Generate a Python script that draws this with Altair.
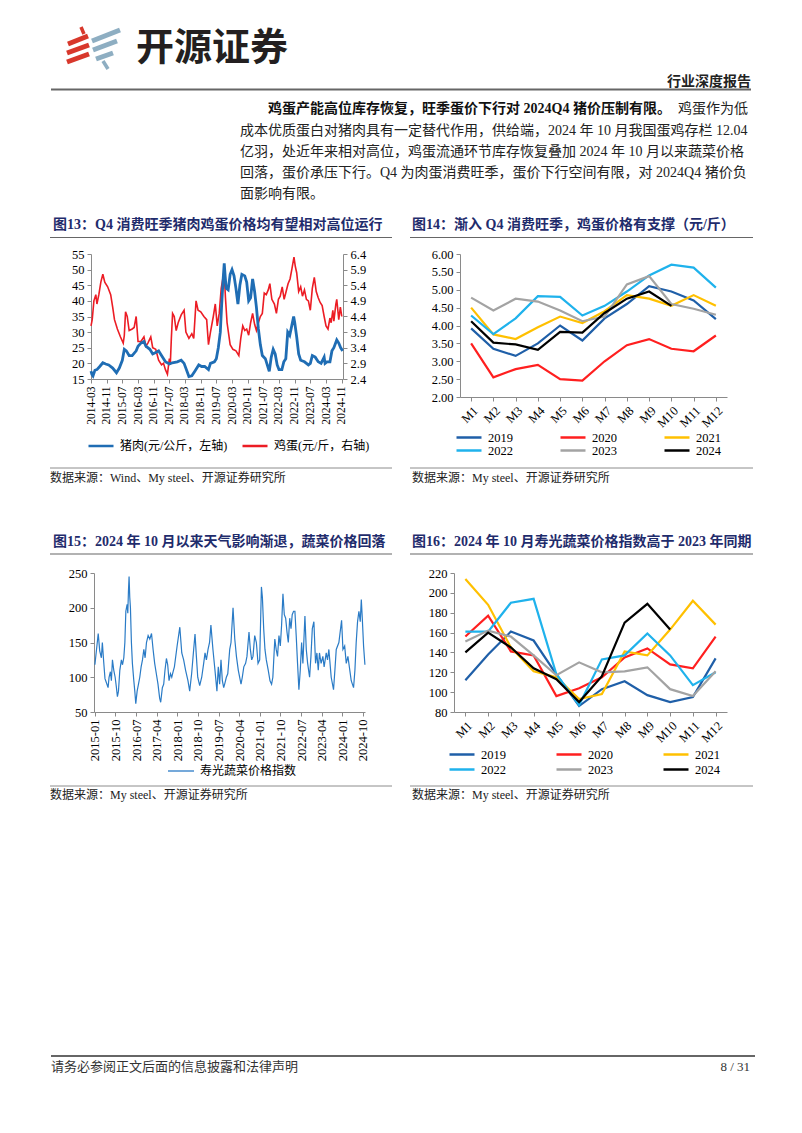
import altair as alt
import pandas as pd

# ---------------- data ----------------
pork_dates = ["2014-03-01","2014-03-15","2014-04-01","2014-05-01","2014-06-01","2014-07-15","2014-09-01","2014-10-15","2014-12-01","2015-02-01",
 "2015-04-01","2015-05-15","2015-07-01","2015-08-01","2015-09-01","2015-10-15","2015-12-01","2016-02-01","2016-03-01","2016-04-15",
 "2016-06-01","2016-07-01","2016-09-01","2016-10-15","2016-12-01","2017-01-15","2017-03-01","2017-05-01","2017-07-01","2017-08-15",
 "2017-11-01","2018-01-01","2018-02-15","2018-04-01","2018-05-01","2018-06-15","2018-08-01","2018-10-01","2018-11-15","2019-01-01",
 "2019-03-01","2019-04-01","2019-06-01","2019-07-01","2019-08-01","2019-09-01","2019-09-20","2019-10-15","2019-11-01","2019-11-15",
 "2019-12-01","2020-01-01","2020-02-01","2020-03-01","2020-04-01","2020-05-01","2020-06-01","2020-07-01","2020-08-01","2020-09-15",
 "2020-10-15","2020-11-15","2020-12-15","2021-01-15","2021-02-15","2021-03-15","2021-04-15","2021-05-15","2021-06-15","2021-08-01",
 "2021-09-15","2021-10-01","2021-11-01","2021-12-01","2022-01-01","2022-02-01","2022-03-01","2022-04-15","2022-05-15","2022-06-15",
 "2022-07-15","2022-08-15","2022-09-15","2022-10-15","2022-11-01","2022-12-01","2023-01-01","2023-02-01","2023-04-01","2023-06-01",
 "2023-07-01","2023-08-01","2023-09-15","2023-11-01","2023-12-15","2024-02-01","2024-02-15","2024-03-15","2024-05-01","2024-06-01",
 "2024-07-01","2024-08-15","2024-09-15","2024-10-15","2024-11-15"]
pork_vals = [17.5,16.5,16.0,17.8,18.0,19.0,20.2,19.8,19.5,18.5,
 17.0,18.5,21.0,24.5,24.0,22.5,22.5,24.0,25.5,26.5,
 27.0,25.5,24.5,23.0,23.5,24.0,22.5,20.5,19.8,20.2,
 20.5,21.0,20.0,17.5,15.8,16.0,17.5,19.5,19.0,19.0,
 18.0,20.0,20.5,21.5,25.0,30.0,38.0,47.0,52.0,48.0,
 44.0,43.5,48.5,50.0,48.0,44.0,39.0,45.0,48.5,48.0,
 46.0,40.0,41.0,47.0,43.0,38.0,31.0,26.0,22.5,21.5,
 18.5,17.5,22.0,24.5,23.0,19.5,18.0,18.0,20.5,21.5,
 30.0,29.0,32.0,35.0,33.0,28.5,23.0,21.0,20.5,19.5,
 20.0,22.5,22.0,20.5,20.0,22.0,20.0,20.5,20.5,24.0,
 25.0,27.5,26.5,25.0,24.0]

egg_dates = ["2014-03-01","2014-03-20","2014-04-15","2014-05-15","2014-06-01","2014-07-01","2014-08-01","2014-09-01","2014-10-01","2014-11-15",
 "2015-01-01","2015-02-01","2015-03-01","2015-04-15","2015-06-01","2015-07-15","2015-08-01","2015-08-20","2015-09-15","2015-10-15",
 "2015-12-01","2016-01-01","2016-02-01","2016-03-01","2016-04-15","2016-06-01","2016-07-01","2016-08-01","2016-09-15","2016-10-15",
 "2016-12-01","2017-01-15","2017-03-01","2017-04-01","2017-05-01","2017-06-01","2017-07-01","2017-07-15","2017-08-01","2017-08-20",
 "2017-09-15","2017-10-15","2017-11-15","2018-01-01","2018-02-15","2018-03-15","2018-05-01","2018-06-15","2018-07-15","2018-08-20",
 "2018-09-20","2018-11-01","2018-12-20","2019-02-01","2019-03-01","2019-04-01","2019-05-15","2019-06-15","2019-07-15","2019-08-15",
 "2019-09-15","2019-10-10","2019-10-30","2019-11-20","2019-12-15","2020-02-01","2020-03-15","2020-05-01","2020-06-15","2020-07-15",
 "2020-08-15","2020-09-15","2020-10-15","2020-11-15","2020-12-15","2021-01-15","2021-02-15","2021-03-15","2021-04-15","2021-05-15",
 "2021-06-15","2021-07-15","2021-08-15","2021-09-15","2021-10-10","2021-11-10","2021-12-20","2022-01-20","2022-02-20","2022-03-20",
 "2022-04-20","2022-05-20","2022-06-20","2022-07-20","2022-08-20","2022-09-20","2022-10-20","2022-11-10","2022-12-01","2023-01-01",
 "2023-02-01","2023-03-01","2023-04-01","2023-05-01","2023-06-01","2023-07-01","2023-08-01","2023-09-01","2023-10-01","2023-11-01",
 "2023-12-01","2024-01-01","2024-02-01","2024-03-01","2024-04-01","2024-05-01","2024-05-20","2024-06-15","2024-07-01","2024-08-01",
 "2024-08-15","2024-09-15","2024-10-10","2024-11-01"]
egg_vals = [4.1,4.3,4.9,5.1,4.8,5.1,5.5,5.75,5.5,5.35,
 5.1,4.7,4.3,4.0,3.75,3.55,3.8,4.55,4.4,3.95,
 4.0,4.05,4.4,3.6,3.6,3.75,3.45,3.55,3.75,3.4,
 3.35,3.0,2.85,2.9,2.7,2.55,3.05,2.85,3.7,4.5,
 4.4,3.95,4.2,4.45,4.6,3.9,3.7,3.85,3.7,4.9,
 4.6,4.55,4.4,4.3,3.5,3.9,4.4,4.8,4.1,4.5,
 5.3,5.6,5.85,5.0,4.2,3.5,3.35,3.3,3.15,3.7,
 4.1,3.95,4.0,3.8,4.2,4.5,4.15,3.95,4.2,4.4,
 4.5,5.15,5.1,5.25,5.45,4.95,4.8,4.5,4.95,5.05,
 5.35,4.95,5.2,5.45,5.6,5.95,6.3,6.0,5.8,5.2,
 5.35,5.05,5.25,4.95,4.9,4.6,5.3,5.65,5.2,5.0,
 4.85,4.75,4.4,4.1,4.0,4.35,4.2,4.6,4.25,4.8,
 4.95,4.3,4.7,4.4]

veg_dates = ["2015-01-01","2015-02-14","2015-03-06","2015-03-28","2015-04-10","2015-04-28","2015-05-15","2015-06-03","2015-06-25","2015-07-08",
 "2015-07-26","2015-08-08","2015-08-22","2015-09-09","2015-09-27","2015-10-14","2015-10-27","2015-11-10","2015-11-28","2015-12-19",
 "2016-01-03","2016-01-20","2016-02-03","2016-02-16","2016-03-04","2016-03-13","2016-03-21","2016-03-30","2016-04-08","2016-04-17",
 "2016-04-30","2016-05-13","2016-06-01","2016-06-14","2016-06-27","2016-07-15","2016-08-02","2016-08-19","2016-09-06","2016-09-24",
 "2016-10-12","2016-10-29","2016-11-16","2016-12-08","2016-12-30","2017-01-22","2017-02-12","2017-03-05","2017-03-27","2017-04-18",
 "2017-05-10","2017-05-24","2017-06-15","2017-07-03","2017-07-20","2017-08-08","2017-08-25","2017-09-12","2017-10-01","2017-10-18",
 "2017-11-05","2017-11-22","2017-12-28","2018-02-02","2018-02-28","2018-03-25","2018-04-20","2018-05-21","2018-06-13","2018-07-09",
 "2018-08-05","2018-08-23","2018-09-10","2018-09-28","2018-10-24","2018-11-20","2018-12-16","2019-01-03","2019-01-21","2019-02-12",
 "2019-03-04","2019-03-22","2019-04-18","2019-05-15","2019-06-10","2019-06-28","2019-07-16","2019-08-03","2019-08-21","2019-09-08",
 "2019-09-25","2019-10-13","2019-11-01","2019-11-27","2019-12-14","2020-01-10","2020-02-02","2020-02-24","2020-03-20","2020-04-25",
 "2020-05-12","2020-06-01","2020-06-25","2020-07-13","2020-08-09","2020-08-27","2020-09-14","2020-10-01","2020-10-24","2020-11-15",
 "2020-12-07","2020-12-29","2021-01-10","2021-01-21","2021-02-03","2021-02-20","2021-03-09","2021-03-27","2021-04-22","2021-05-15",
 "2021-06-05","2021-06-22","2021-07-18","2021-08-05","2021-08-23","2021-09-11","2021-09-29","2021-10-16","2021-11-03","2021-11-21",
 "2021-12-09","2021-12-27","2022-01-13","2022-02-01","2022-02-18","2022-03-06","2022-03-24","2022-04-11","2022-04-28","2022-05-16",
 "2022-06-03","2022-06-21","2022-07-09","2022-07-26","2022-08-22","2022-09-09","2022-09-27","2022-10-23","2022-11-10","2022-11-28",
 "2022-12-19","2023-01-10","2023-01-28","2023-02-15","2023-03-03","2023-03-25","2023-04-17","2023-05-04","2023-06-01","2023-06-18",
 "2023-07-06","2023-08-06","2023-09-06","2023-09-24","2023-10-12","2023-11-16","2023-12-22","2024-01-09","2024-02-01","2024-02-22",
 "2024-03-15","2024-04-28","2024-05-29","2024-06-16","2024-07-03","2024-07-21","2024-08-08","2024-08-26","2024-09-09","2024-09-22",
 "2024-10-09","2024-10-27"]
veg_vals = [118,163,138,128,150,122,98,92,85,100,
 108,95,125,110,100,85,72,80,110,125,
 118,128,150,195,205,192,222,245,215,200,
 150,120,95,80,62,80,90,100,115,125,
 140,128,150,160,155,163,140,120,105,90,
 70,64,85,90,110,127,118,95,105,100,
 108,115,145,172,135,125,110,95,80,105,
 140,162,130,100,88,100,120,135,125,140,
 150,175,140,110,80,115,90,125,95,85,
 92,100,105,140,150,200,155,130,110,90,
 100,115,120,130,165,140,125,130,160,150,
 120,125,180,230,215,170,140,125,110,95,
 90,100,155,140,130,160,145,175,220,190,
 185,165,150,185,170,190,195,195,160,120,
 82,110,150,120,188,140,120,100,130,170,
 180,120,135,110,135,120,130,115,135,125,
 140,100,82,110,140,150,182,140,145,120,
 130,95,85,110,150,180,195,180,212,185,
 145,118]

months = ["M1","M2","M3","M4","M5","M6","M7","M8","M9","M10","M11","M12"]
years = ["2019","2020","2021","2022","2023","2024"]
egg_2019 = [3.92,3.35,3.15,3.50,4.00,3.58,4.20,4.60,5.10,4.95,4.70,4.18]
egg_2020 = [3.50,2.55,2.78,2.90,2.50,2.46,3.00,3.45,3.62,3.35,3.28,3.72]
egg_2021 = [4.50,3.75,3.62,3.95,4.25,4.07,4.40,4.85,4.75,4.55,4.85,4.55]
egg_2022 = [4.28,3.76,4.20,4.82,4.80,4.28,4.55,4.95,5.40,5.70,5.62,5.06]
egg_2023 = [4.78,4.42,4.75,4.67,4.42,4.12,4.25,5.15,5.38,4.60,4.47,4.30]
egg_2024 = [4.12,3.52,3.47,3.32,3.82,3.80,4.35,4.75,4.95,4.55]
veg_2019 = [112,138,161,152,118,86,103,111,97,90,95,134]
veg_2020 = [156,177,141,137,96,104,115,135,144,128,124,156]
veg_2021 = [214,188,145,121,115,93,98,141,137,163,192,168]
veg_2022 = [161,161,190,194,118,87,133,137,159,137,107,120]
veg_2023 = [151,162,156,137,117,130,120,121,125,103,96,121]
veg_2024 = [140,160,145,124,113,90,116,170,189,163]

ticks13 = ["2014-03","2014-11","2015-07","2016-03","2016-11","2017-07","2018-03","2018-11","2019-07",
           "2020-03","2020-11","2021-07","2022-03","2022-11","2023-07","2024-03","2024-11"]
ticks15 = ["2015-01","2015-10","2016-07","2017-04","2018-01","2018-10","2019-07","2020-04","2021-01",
           "2021-10","2022-07","2023-04","2024-01","2024-10"]
yt13_left = [15,20,25,30,35,40,45,50,55]
yt13_right = [2.4,2.9,3.4,3.9,4.4,4.9,5.4,5.9,6.4]
yt14 = [2.0,2.5,3.0,3.5,4.0,4.5,5.0,5.5,6.0]
yt15 = [50,100,150,200,250]
yt16 = [80,100,120,140,160,180,200,220]

PORK = "猪肉(元/公斤，左轴)"
EGG = "鸡蛋(元/斤，右轴)"
VEG = "寿光蔬菜价格指数"
year_colors = ["#1f5fa8", "#ff1f1f", "#ffc000", "#1fb2ec", "#a3a3a3", "#000000"]

# ---------------- styles ----------------
SERIF = "Liberation Serif, Noto Sans CJK SC"
NAVY = "#1f2c6c"
one = pd.DataFrame({"k": [0]})


def dt(s):
    y, m = s.split("-")
    return alt.DateTime(year=int(y), month=int(m), date=1)


def T(s, x, y, size=12, weight="normal", color="#222222", align="left", font=SERIF):
    return alt.Chart(one).mark_text(text=s, align=align, baseline="middle", fontSize=size,
                                    fontWeight=weight, color=color, font=font).encode(
        x=alt.value(x), y=alt.value(y))


def R(x1, x2, y, color="#8c8c8c", w=1.0):
    return alt.Chart(one).mark_rule(color=color, strokeWidth=w).encode(
        x=alt.value(x1), x2=alt.value(x2), y=alt.value(y))


def S(x1, y1, x2, y2, color, w=5):
    return alt.Chart(one).mark_rule(color=color, strokeWidth=w, strokeCap="butt").encode(
        x=alt.value(x1), y=alt.value(y1), x2=alt.value(x2), y2=alt.value(y2))


def spacer(w, h):
    return alt.Chart(one).mark_text(text="").properties(width=w, height=h)


def leg(x, y, cols, colpad, clip, size=625, sw=2.5, fs=12.5):
    return alt.Legend(orient="none", legendX=x, legendY=y, direction="horizontal", columns=cols,
                      symbolType="stroke", symbolSize=size, symbolStrokeWidth=sw, clipHeight=clip,
                      rowPadding=0, columnPadding=colpad, labelFont=SERIF, labelFontSize=fs,
                      labelColor="#000000", labelOffset=5, title=None, padding=0)


# ---------------- header ----------------
RED = "#d8382c"
BLUEG = "#8eaec2"
header = alt.layer(
    S(60, 36, 80, 28, RED), S(59, 45, 81, 37, RED), S(59, 54, 81, 46, RED), S(73, 19, 76, 26, RED, 3.5),
    S(84, 33, 112, 22, BLUEG), S(85, 42, 109, 33, BLUEG), S(88, 51, 105, 45, BLUEG), S(95, 53, 100, 61, BLUEG, 3.5),
    T("开源证券", 128, 41, size=38, weight="bold", color="#231f20", font="Noto Sans CJK SC"),
    T("行业深度报告", 743, 74, size=14, weight="bold", color="#222222", align="right"),
    R(43, 743, 81.5, color="#666666", w=2),
    T("鸡蛋产能高位库存恢复，旺季蛋价下行对 2024Q4 猪价压制有限。", 260, 101, size=14, weight="bold", color="#111111"),
    T("鸡蛋作为低", 670, 101, size=14),
    T("成本优质蛋白对猪肉具有一定替代作用，供给端，2024 年 10 月我国蛋鸡存栏 12.04", 232, 123, size=14),
    T("亿羽，处近年来相对高位，鸡蛋流通环节库存恢复叠加 2024 年 10 月以来蔬菜价格", 232, 144, size=14),
    T("回落，蛋价承压下行。Q4 为肉蛋消费旺季，蛋价下行空间有限，对 2024Q4 猪价负", 232, 165, size=14),
    T("面影响有限。", 232, 186, size=14),
    T("图13：Q4 消费旺季猪肉鸡蛋价格均有望相对高位运行", 45, 217, size=14, weight="bold", color=NAVY),
    T("图14：渐入 Q4 消费旺季，鸡蛋价格有支撑（元/斤）", 404, 217, size=14, weight="bold", color=NAVY),
    R(42, 384, 229.5, color="#666666", w=1.2),
    R(402, 745, 229.5, color="#666666", w=1.2),
).properties(width=786, height=246)

# ---------------- chart 13 ----------------
pork_df = pd.DataFrame({"date": pd.to_datetime(pork_dates), "v": pork_vals, "s": PORK})
egg_df = pd.DataFrame({"date": pd.to_datetime(egg_dates), "v": egg_vals, "s": EGG})
x13 = alt.X("date:T", title=None,
            scale=alt.Scale(domain=[dt("2014-03"), alt.DateTime(year=2024, month=11, date=20)]),
            axis=alt.Axis(values=[dt(t) for t in ticks13], format="%Y-%m", labelAngle=-90,
                          labelFontSize=11.5))
col13 = alt.Color("s:N", scale=alt.Scale(domain=[PORK, EGG], range=["#1f6db4", "#ec1c24"]),
                  legend=leg(-4, 185, 2, 13, 14, fs=12))
pork_line = alt.Chart(pork_df).mark_line(strokeWidth=2.8).encode(
    x=x13,
    y=alt.Y("v:Q", title=None, scale=alt.Scale(domain=[15, 55]),
            axis=alt.Axis(orient="left", values=yt13_left)),
    color=col13)
egg_line = alt.Chart(egg_df).mark_line(strokeWidth=1.6).encode(
    x=x13,
    y=alt.Y("v:Q", title=None, scale=alt.Scale(domain=[2.4, 6.4]),
            axis=alt.Axis(orient="right", values=yt13_right, format=".1f")),
    color=col13)
c13 = alt.layer(egg_line, pork_line).resolve_scale(y="independent").properties(width=252, height=125)

# ---------------- chart 14 ----------------
egg_month = [egg_2019, egg_2020, egg_2021, egg_2022, egg_2023, egg_2024]
d14 = pd.DataFrame([(m, yr, v) for yr, vals in zip(years, egg_month) for m, v in zip(months, vals)],
                   columns=["m", "yr", "v"])
c14 = alt.Chart(d14).mark_line(strokeWidth=2.2).encode(
    x=alt.X("m:N", sort=months, title=None, scale=alt.Scale(type="point", padding=0.5),
            axis=alt.Axis(labelAngle=-45, labelFontSize=12.5)),
    y=alt.Y("v:Q", title=None, scale=alt.Scale(domain=[2, 6]),
            axis=alt.Axis(values=yt14, format=".2f")),
    color=alt.Color("yr:N", scale=alt.Scale(domain=years, range=year_colors),
                    legend=leg(-5, 177, 3, 46, 13)),
).properties(width=267, height=143)

row2 = alt.hconcat(spacer(83, 143), c13, spacer(117, 143), c14, spacer(67, 143),
                   spacing=0, bounds="flush").resolve_scale(color="independent")

# ---------------- middle ----------------
mid = alt.layer(
    R(42, 384, 71), R(402, 745, 71),
    T("数据来源：Wind、My steel、开源证券研究所", 42, 81, size=12),
    T("数据来源：My steel、开源证券研究所", 404, 81, size=12),
    T("图15：2024 年 10 月以来天气影响渐退，蔬菜价格回落", 45, 145, size=14, weight="bold", color=NAVY),
    T("图16：2024 年 10 月寿光蔬菜价格指数高于 2023 年同期", 404, 145, size=14, weight="bold", color=NAVY),
    R(42, 384, 157, color="#666666", w=1.2),
    R(402, 745, 157, color="#666666", w=1.2),
).properties(width=786, height=176)

# ---------------- chart 15 ----------------
veg_df = pd.DataFrame({"date": pd.to_datetime(veg_dates), "v": veg_vals, "s": VEG})
c15 = alt.Chart(veg_df).mark_line(strokeWidth=1.2).encode(
    x=alt.X("date:T", title=None,
            scale=alt.Scale(domain=[alt.DateTime(year=2014, month=12, date=20),
                                    alt.DateTime(year=2024, month=10, date=28)]),
            axis=alt.Axis(values=[dt(t) for t in ticks15], format="%Y-%m", labelAngle=-90,
                          labelFontSize=12.5)),
    y=alt.Y("v:Q", title=None, scale=alt.Scale(domain=[50, 250]), axis=alt.Axis(values=yt15)),
    color=alt.Color("s:N", scale=alt.Scale(domain=[VEG], range=["#2a7bc6"]),
                    legend=leg(73, 191, 1, 0, 14, size=676, sw=1.3, fs=12)),
).properties(width=271, height=139)

# ---------------- chart 16 ----------------
veg_month = [veg_2019, veg_2020, veg_2021, veg_2022, veg_2023, veg_2024]
d16 = pd.DataFrame([(m, yr, v) for yr, vals in zip(years, veg_month) for m, v in zip(months, vals)],
                   columns=["m", "yr", "v"])
c16 = alt.Chart(d16).mark_line(strokeWidth=2.2).encode(
    x=alt.X("m:N", sort=months, title=None, scale=alt.Scale(type="point", padding=0.5),
            axis=alt.Axis(labelAngle=-45, labelFontSize=12.5)),
    y=alt.Y("v:Q", title=None, scale=alt.Scale(domain=[80, 220]), axis=alt.Axis(values=yt16)),
    color=alt.Color("yr:N", scale=alt.Scale(domain=years, range=year_colors),
                    legend=leg(-6, 174, 3, 49, 15)),
).properties(width=273, height=139)

row3 = alt.hconcat(spacer(86, 139), c15, spacer(89, 139), c16, spacer(67, 139),
                   spacing=0, bounds="flush").resolve_scale(color="independent")

# ---------------- footer ----------------
footer = alt.layer(
    R(42, 384, 74), R(402, 745, 74),
    T("数据来源：My steel、开源证券研究所", 42, 83, size=12),
    T("数据来源：My steel、开源证券研究所", 404, 83, size=12),
    R(43, 747, 344, color="#333333", w=1.5),
    T("请务必参阅正文后面的信息披露和法律声明", 43, 355, size=13, color="#333333"),
    T("8 / 31", 742, 355, size=13, color="#333333", align="right"),
).properties(width=786, height=413)

# the nested rows take no height in a flush layout, so a blank band of the
# same height follows each of them
chart = alt.vconcat(header, row2, spacer(786, 143), mid, row3, spacer(786, 139), footer,
                    spacing=0, bounds="flush").resolve_scale(color="independent").properties(
    padding=0, background="white"
).configure_view(strokeWidth=0).configure_axis(
    grid=False, labelFont="Liberation Serif", labelFontSize=12.5, labelColor="#000000",
    domainColor="#8a8a8a", tickColor="#8a8a8a", tickSize=4, labelPadding=3
)

chart.save("out.html", embed_options={"renderer": "svg", "actions": False})
